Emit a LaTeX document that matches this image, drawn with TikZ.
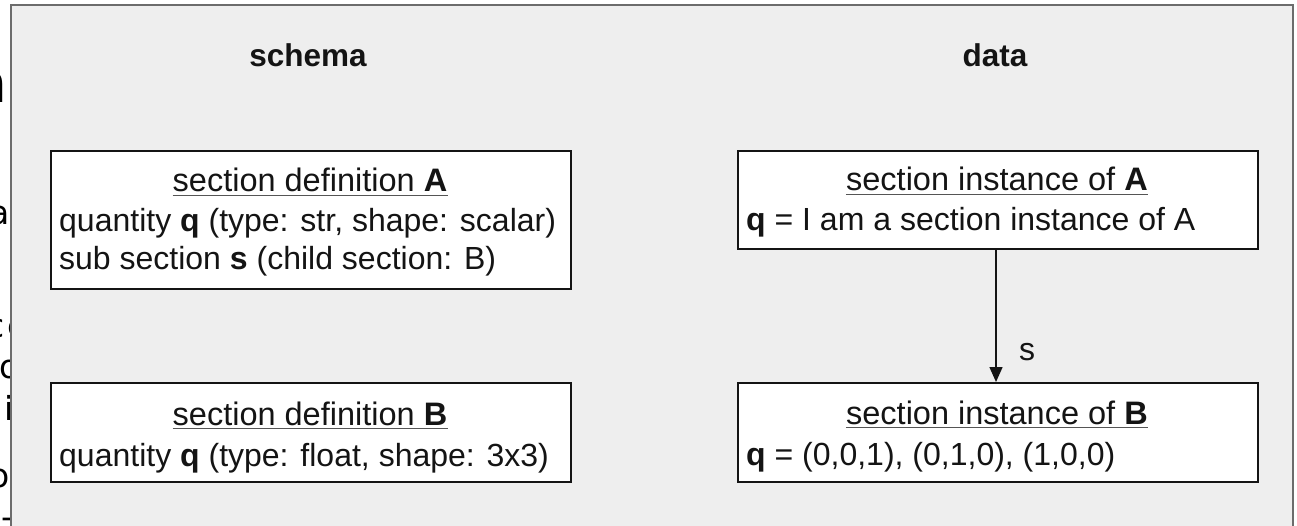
\documentclass[tikz,border=0pt]{standalone}
\usepackage{fontspec}
\setmainfont{Liberation Sans}
\newfontfamily\fragfont{DejaVu Sans}
\usetikzlibrary{arrows.meta}

\definecolor{panelfill}{HTML}{EEEEEE}
\definecolor{panelline}{HTML}{6C6C6C}
\definecolor{ink}{HTML}{141414}
\definecolor{rulegrey}{HTML}{555555}

\tikzset{
  heading/.style={font=\fontsize{31.5}{36}\selectfont\bfseries, text=ink, inner sep=0pt, anchor=base},
  title/.style={font=\fontsize{32.5}{36}\selectfont, text=ink, inner sep=0pt, anchor=base},
  entry/.style={font=\fontsize{32}{36}\selectfont, text=ink, inner sep=0pt, anchor=base west},
  box/.style={draw=ink, fill=white, line width=2pt, inner sep=0pt, anchor=north west},
  panel/.style={draw=panelline, fill=panelfill, line width=2pt},
  ul/.style={draw=rulegrey, line width=1.6pt},
  link/.style={draw=ink, line width=1.5pt, -{Triangle[length=15pt,width=13pt]}},
  frag/.style={font=\fragfont\fontsize{33}{38}\selectfont, text=black, inner sep=0pt},
}

\begin{document}
\begin{tikzpicture}[x=1pt,y=-1pt]
\useasboundingbox (0,0) rectangle (1297,526);
\begin{scope}
\clip (0,0) rectangle (1297,526);

% pieces of the surrounding page text, cut off by the panel
\begin{scope}
\clip (0,0) rectangle (10.5,526);
\node[frag, font=\fragfont\fontsize{55}{60}\selectfont, anchor=base east] (f1) at (8,103) {n};
\node[frag, anchor=base east] (f2) at (10,225) {a};
\node[frag, anchor=base east] (f3) at (5,337) {c};
\node[frag, anchor=base west] (f4) at (7,337) {e};
\node[frag, anchor=base west] (f5) at (-1,378) {o};
\node[frag, anchor=base west] (f6) at (4,420) {i};
\node[frag, anchor=base east] (f7) at (10,487) {o};
\node[frag, anchor=base west] (f8) at (1,528) {-};
\end{scope}

% grey panel
\draw[panel] (10.5,5) rectangle (1293,560);
\end{scope}

% column headings
\node[heading] (hschema) at (308,67) {schema};
\node[heading] (hdata) at (995,67) {data};

% schema boxes
\node[box, minimum width=520pt, minimum height=138pt] (defA) at (50,150) {};
\node[box, minimum width=520pt, minimum height=99pt] (defB) at (50,382) {};

% data boxes
\node[box, minimum width=520pt, minimum height=98pt] (instA) at (737,150) {};
\node[box, minimum width=520pt, minimum height=99pt] (instB) at (737,382) {};

% section definition A
\node[title] (tdefA) at (310,192) {section definition \textbf{A}};
\draw[ul] ([yshift=-3.5pt]tdefA.base west) -- ([yshift=-3.5pt]tdefA.base east);
\node[entry] (qdefA) at (59,232) {quantity \textbf{q} (type: str, shape: scalar)};
\node[entry] (sdefA) at (59,270) {sub section \textbf{s} (child section: B)};

% section definition B
\node[title] (tdefB) at (310,425) {section definition \textbf{B}};
\draw[ul] ([yshift=-3.5pt]tdefB.base west) -- ([yshift=-3.5pt]tdefB.base east);
\node[entry] (qdefB) at (59,466) {quantity \textbf{q} (type: float, shape: 3x3)};

% section instance of A
\node[title] (tinstA) at (997,191) {section instance of \textbf{A}};
\draw[ul] ([yshift=-3.5pt]tinstA.base west) -- ([yshift=-3.5pt]tinstA.base east);
\node[entry] (qinstA) at (746,231) {\textbf{q} = I am a section instance of A};

% section instance of B
\node[title] (tinstB) at (997,424) {section instance of \textbf{B}};
\draw[ul] ([yshift=-3.5pt]tinstB.base west) -- ([yshift=-3.5pt]tinstB.base east);
\node[entry] (qinstB) at (746,465) {\textbf{q} = (0,0,1), (0,1,0), (1,0,0)};

% sub section link
\draw[link] ([xshift=-2pt]instA.south) -- ([xshift=-2pt]instB.north);
\node[entry] (lbls) at (1019,360) {s};
\end{tikzpicture}
\end{document}
